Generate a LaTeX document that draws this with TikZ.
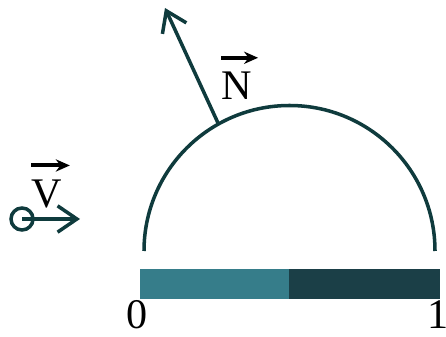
\documentclass[tikz,border=0pt]{standalone}
\usepackage{fontspec}
\setmainfont{Liberation Serif}
\usetikzlibrary{positioning, arrows.meta}
\definecolor{domeline}{HTML}{0F3B3D}
\definecolor{barlight}{HTML}{367D8A}
\definecolor{bardark}{HTML}{1B3F47}

\begin{document}
\begin{tikzpicture}[x=0.02cm, y=-0.02cm,
      every node/.style={font=\fontsize{24}{28}\selectfont, inner sep=0pt},
      vec/.style={-{Stealth[length=8pt, width=7pt]}, line width=2.3pt, black},
      ray/.style={-{Straight Barb[length=11pt, width=15pt, line width=2pt]}, line width=2pt, domeline},
    ]
    \useasboundingbox (0,0) rectangle (446,337);

    % Dome
    \draw[domeline, line width=2pt] (144,251) arc[start angle=180, end angle=360, radius=145.5];
    \coordinate (foot) at (218,123);
    \coordinate (ntip) at (165,8);
    \draw[ray] (foot) -- (ntip);
    \node (nlab) at (237,86) {N};
    \draw[vec] ([xshift=-9pt, yshift=8pt]nlab.north) -- ([xshift=12pt, yshift=8pt]nlab.north);

    % Viewer
    \node[circle, draw=domeline, line width=2pt, minimum size=0.44cm] (eye) at (22,219) {};
    \coordinate (eyetip) at (80,219);
    \draw[ray] (eye.center) -- (eyetip);
    \node (vlab) at (47,194) {V};
    \draw[vec] ([xshift=-9pt, yshift=8pt]vlab.north) -- ([xshift=13pt, yshift=8pt]vlab.north);

    % Colour bar
    \fill[barlight] (140,269) rectangle (289,299);
    \fill[bardark] (289,269) rectangle (440,299);
    \node (zero) at (137,315) {0};
    \node (one) at (438,315) {1};
  \end{tikzpicture}
\end{document}
